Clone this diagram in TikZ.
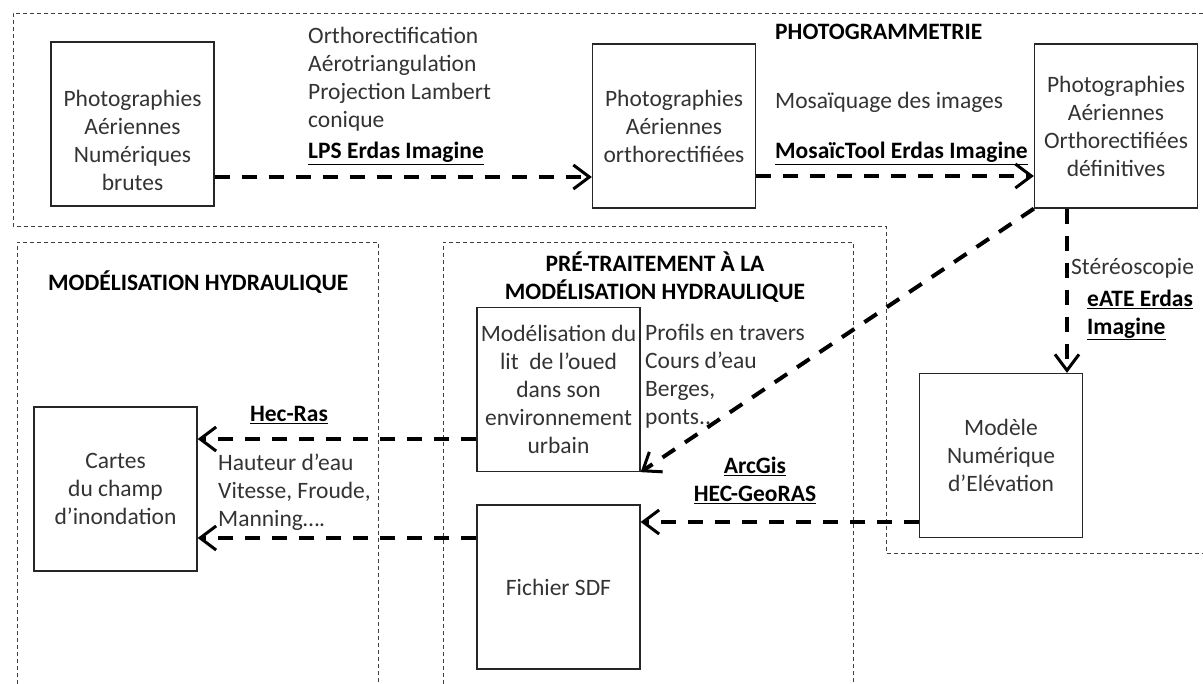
\documentclass[tikz,border=0pt]{standalone}
\usepackage{fontspec}
\setmainfont{Carlito}
\usetikzlibrary{arrows.meta}

\begin{document}
\begin{tikzpicture}[x=1pt,y=-1pt,
	font=\fontsize{23.5pt}{28pt}\selectfont,
	box/.style={draw=black!85,line width=1.3pt,minimum width=163pt,minimum height=164pt,inner sep=0pt,align=center,text=black!80},
	txt/.style={inner sep=0pt,align=left,text=black!80},
	tool/.style={inner sep=0pt,font=\fontsize{23.5pt}{28pt}\selectfont\bfseries},
	zone/.style={draw=black!75,line width=0.9pt,dash pattern=on 4pt off 3pt},
	flow/.style={line width=4pt,dash pattern=on 15pt off 12pt,-{Straight Barb[length=16pt,width=24pt,line width=3pt]}}]

	\useasboundingbox (0,0) rectangle (1203,684);

	% dashed zones
	\draw[zone] (1203,13) -- (13,13) -- (13,226) -- (886,226) -- (886,553) -- (1203,553);
	\draw[zone] (17,684) -- (17,242) -- (378,242) -- (378,684);
	\draw[zone] (443,684) -- (443,242) -- (853,242) -- (853,684);

	% boxes
	\node[box] (brutes) at (132.5,124) {};
	\node[txt,align=center] (brutes-t) at (132.5,140) {Photographies\\Aériennes\\Numériques\\brutes};
	\node[box] (ortho) at (674,126) {Photographies\\Aériennes\\orthorectifiées};
	\node[box] (defin) at (1116,126) {Photographies\\Aériennes\\Orthorectifiées\\définitives};
	\node[box] (mne) at (1001,455.5) {Modèle\\Numérique\\d’Elévation};
	\node[box] (modlit) at (558.5,389.5) {Modélisation du\\lit \ de l’oued\\dans son\\environnement\\urbain};
	\node[box] (sdf) at (558.5,587) {Fichier SDF};
	\node[box] (cartes) at (115.5,489) {Cartes\\du champ\\d’inondation};

	% titles and labels
	\node[tool,anchor=base west] (photo-title) at (775,39.5) {PHOTOGRAMMETRIE};
	\node[txt,anchor=west] (ortho-ops) at (308,79) {Orthorectification\\Aérotriangulation\\Projection Lambert\\conique};
	\node[tool,anchor=base west] (lps) at (308,159) {\underline{LPS Erdas Imagine}};
	\node[txt,anchor=base west] (mosaic) at (775,109) {Mosaïquage des images};
	\node[tool,anchor=base west] (mosaictool) at (775,159) {\underline{MosaïcTool Erdas Imagine}};
	\node[txt,anchor=base west] (stereo) at (1071,275) {Stéréoscopie};
	\node[tool,anchor=west,align=left] (eate) at (1087,315) {\underline{eATE Erdas}\\\underline{Imagine}};
	\node[tool,align=center] (pre-title) at (655,277) {PRÉ-TRAITEMENT À LA\\MODÉLISATION HYDRAULIQUE};
	\node[tool,anchor=base west] (hydro-title) at (48,290.5) {MODÉLISATION HYDRAULIQUE};
	\node[txt,anchor=west] (profils) at (645,376) {Profils en travers\\Cours d’eau\\Berges,\\ponts..};
	\node[tool,align=center] (arcgis) at (755,480) {\underline{ArcGis}\\\underline{HEC-GeoRAS}};
	\node[tool,anchor=base] (hecras) at (289,422) {\underline{Hec-Ras}};
	\node[txt,anchor=west] (hauteur) at (218,492) {Hauteur d’eau\\Vitesse, Froude,\\Manning….};

	% flows
	\draw[flow] ([yshift=-53pt]brutes.east) -- ([yshift=-51pt]ortho.west);
	\draw[flow] ([yshift=-50pt]ortho.east) -- ([yshift=-50pt]defin.west);
	\draw[flow] ([xshift=-49pt]defin.south) -- ([xshift=66pt]mne.north);
	\draw[flow] (defin.south west) -- (modlit.south east);
	\draw[flow] ([yshift=-66.5pt]mne.west) -- ([yshift=65pt]sdf.east);
	\draw[flow] ([yshift=-49.5pt]modlit.west) -- ([yshift=50pt]cartes.east);
	\draw[flow] ([yshift=49pt]sdf.west) -- ([yshift=-49pt]cartes.east);
\end{tikzpicture}
\end{document}
